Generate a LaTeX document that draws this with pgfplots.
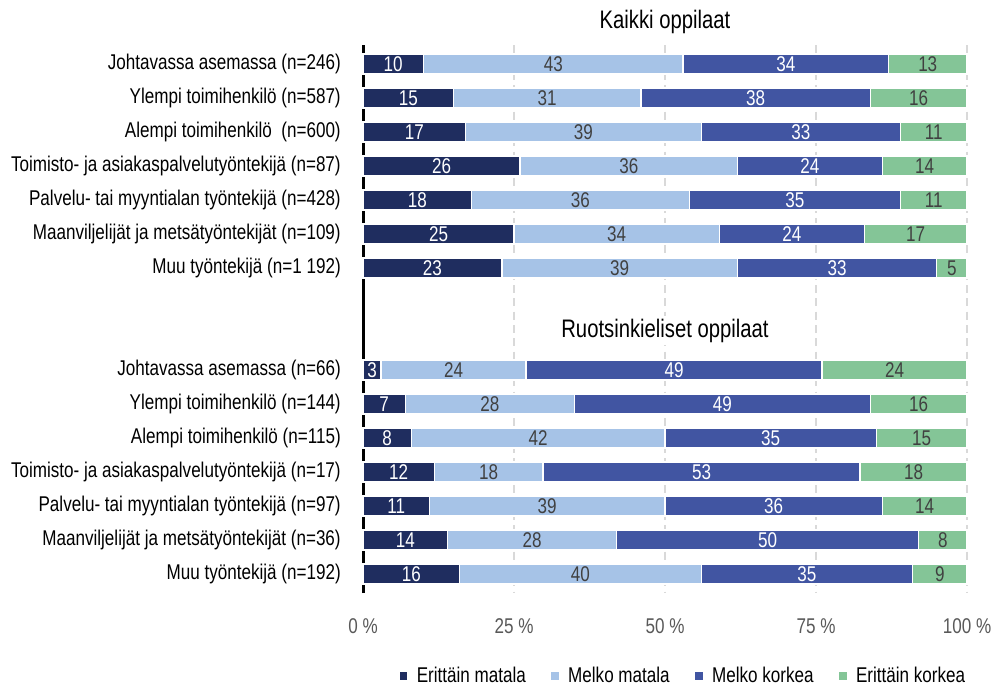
\documentclass[border=0pt]{standalone}
\usepackage{pgfplots}
\pgfplotsset{compat=1.18}
\usepackage{fontspec}
\setmainfont[FakeStretch=0.8]{Liberation Sans}
\definecolor{c1}{HTML}{1F2D5F}
\definecolor{c2}{HTML}{A6C3E7}
\definecolor{c3}{HTML}{4155A2}
\definecolor{c4}{HTML}{84C597}
\definecolor{tgray}{HTML}{404040}
\definecolor{lgray}{HTML}{595959}
\definecolor{gridc}{HTML}{D9D9D9}
\newcommand{\lf}{\fontsize{16pt}{19pt}\selectfont}
\begin{document}
\lf
\begin{tikzpicture}
\begin{axis}[
  scale only axis, width=453pt, height=411pt,
  xbar stacked, bar width=15pt,
  xmin=0, xmax=100, ymin=-0.56, ymax=15.56, y dir=reverse,
  axis line style={draw=none},
  major tick length=0pt,
  xtick={0,25,50,75,100},
  xticklabels={0 \%,25 \%,50 \%,75 \%,100 \%},
  xticklabel style={text=lgray, inner sep=0pt, anchor=north, yshift=-19pt, font=\lf},
  ytick={0,1,2,3,4,5,6,9,10,11,12,13,14,15},
  yticklabels={Johtavassa asemassa (n=246),Ylempi toimihenkilö (n=587),Alempi toimihenkilö\ \ (n=600),Toimisto- ja asiakaspalvelutyöntekijä (n=87),Palvelu- tai myyntialan työntekijä (n=428),Maanviljelijät ja metsätyöntekijät (n=109),Muu työntekijä (n=1 192),
  Johtavassa asemassa (n=66),Ylempi toimihenkilö (n=144),Alempi toimihenkilö (n=115),Toimisto- ja asiakaspalvelutyöntekijä (n=17),Palvelu- tai myyntialan työntekijä (n=97),Maanviljelijät ja metsätyöntekijät (n=36),Muu työntekijä (n=192)},
  yticklabel style={inner sep=0pt, anchor=east, xshift=-16.5pt, font=\lf, text=black},
  xmajorgrids, major grid style={gridc, line width=1.1pt, dash pattern=on 6pt off 4pt},
  clip=false,
  point meta=explicit symbolic,
  nodes near coords,
  nodes near coords style={anchor=center, inner sep=0pt, font=\lf},
  legend columns=4,
  legend style={draw=none, fill=none, at={(axis description cs:0.531,-0.1515)}, anchor=center, font=\lf,
    /tikz/every even column/.style={column sep=15pt},
    /tikz/every odd column/.style={column sep=3pt},
    nodes={inner xsep=3pt}},
  legend image code/.code={\fill[#1] (0pt,-3.4pt) rectangle (6.8pt,3.4pt);},
]
\addplot[fill=c1, draw=white, line width=1pt, every node near coord/.append style={text=white}] coordinates {
(10,0) [10] (15,1) [15] (17,2) [17] (26,3) [26] (18,4) [18] (25,5) [25] (23,6) [23]
(3,9) [3] (7,10) [7] (8,11) [8] (11.8,12) [12] (11,13) [11] (14,14) [14] (16,15) [16]};
\addplot[fill=c2, draw=white, line width=1pt, every node near coord/.append style={text=tgray}] coordinates {
(43,0) [43] (31,1) [31] (39,2) [39] (36,3) [36] (36,4) [36] (34,5) [34] (39,6) [39]
(24,9) [24] (28,10) [28] (42,11) [42] (18,12) [18] (39,13) [39] (28,14) [28] (40,15) [40]};
\addplot[fill=c3, draw=white, line width=1pt, every node near coord/.append style={text=white}] coordinates {
(34,0) [34] (38,1) [38] (33,2) [33] (24,3) [24] (35,4) [35] (24,5) [24] (33,6) [33]
(49,9) [49] (49,10) [49] (35,11) [35] (52.5,12) [53] (36,13) [36] (50,14) [50] (35,15) [35]};
\addplot[fill=c4, draw=white, line width=1pt, every node near coord/.append style={text=tgray}] coordinates {
(13,0) [13] (16,1) [16] (11,2) [11] (14,3) [14] (11,4) [11] (17,5) [17] (5,6) [5]
(24,9) [24] (16,10) [16] (15,11) [15] (17.7,12) [18] (14,13) [14] (8,14) [8] (9,15) [9]};
\legend{Erittäin matala,Melko matala,Melko korkea,Erittäin korkea}
\draw[black, line width=2.25pt] (axis description cs:0,0) -- (axis description cs:0,1);
\node[font=\fontsize{19pt}{22pt}\selectfont] at (axis cs:50,-1.24) {Kaikki oppilaat};
\node[font=\fontsize{19pt}{22pt}\selectfont, fill=white, inner sep=2pt] at (axis cs:50,7.85) {Ruotsinkieliset oppilaat};
\path (axis description cs:-0.601,-0.1734) rectangle (axis description cs:1.0447,1.0821);
\end{axis}
\end{tikzpicture}
\end{document}
